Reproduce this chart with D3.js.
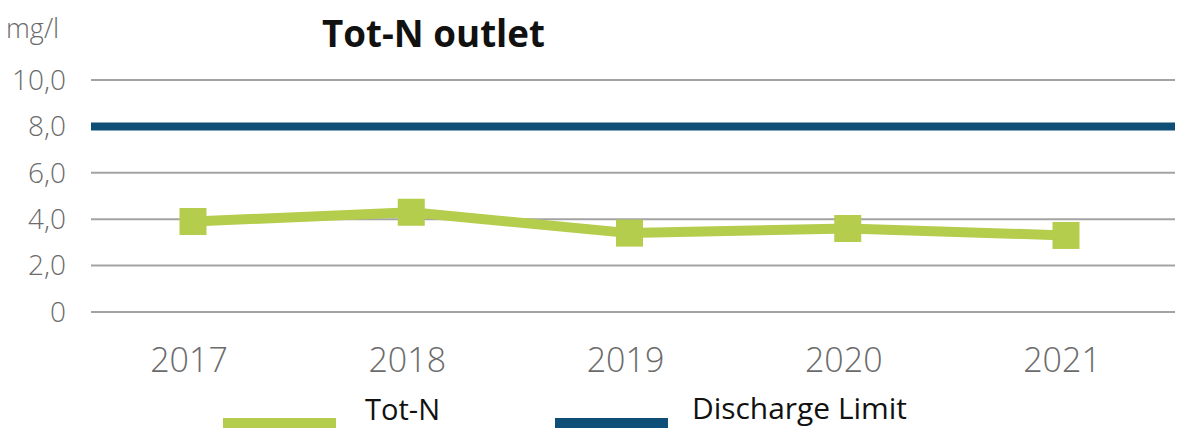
<!DOCTYPE html>
<html>
<head>
<meta charset="utf-8">
<script src="https://cdn.jsdelivr.net/npm/d3@7"></script>
<style>
  body { margin: 0; background: #fff; }
  .tick-label { font-family: "Open Sans", "Noto Sans", sans-serif; font-weight: 300; fill: #6b6b6b; }
  .legend-text, .title { font-family: "Open Sans", "Liberation Sans", sans-serif; fill: #111; }
</style>
</head>
<body>
<div id="chart_box"></div>
<script>
// data
var years = ["2017", "2018", "2019", "2020", "2021"];
var totN = [3.9, 4.3, 3.4, 3.6, 3.3];
var dischargeLimit = 8.0;
var yTicks = [0, 2, 4, 6, 8, 10];
var yTickLabels = ["0", "2,0", "4,0", "6,0", "8,0", "10,0"];

var width = 1180, height = 429;
var green = "#b4cd4c", blue = "#0f4f77", grid = "#a3a3a3";

var svg = d3.select("#chart_box").append("svg")
    .attr("width", width)
    .attr("height", height);

var x = d3.scalePoint().domain(years).range([193, 1066]);
var y = d3.scaleLinear().domain([0, 10]).range([312, 80]);

var plotLeft = 91, plotRight = 1175;

// gridlines
svg.selectAll(".grid")
    .data(yTicks)
    .enter().append("line")
    .attr("x1", plotLeft).attr("x2", plotRight)
    .attr("y1", function (d) { return y(d); })
    .attr("y2", function (d) { return y(d); })
    .style("stroke", grid)
    .style("stroke-width", 2);

// y tick labels
svg.selectAll(".ylab")
    .data(yTicks)
    .enter().append("text")
    .attr("class", "tick-label")
    .attr("x", 66)
    .attr("y", function (d) { return y(d); })
    .attr("dy", "0.35em")
    .style("text-anchor", "end")
    .style("font-size", "28px")
    .text(function (d, i) { return yTickLabels[i]; });

// unit
svg.append("text")
    .attr("class", "tick-label")
    .attr("x", 6).attr("y", 38)
    .style("font-size", "27px")
    .text("mg/l");

// title
svg.append("text")
    .attr("class", "title")
    .attr("x", 322).attr("y", 47)
    .attr("textLength", 223)
    .attr("lengthAdjust", "spacingAndGlyphs")
    .style("font-size", "38px")
    .style("font-weight", "bold")
    .text("Tot-N outlet");

// x labels
svg.selectAll(".xlab")
    .data(years)
    .enter().append("text")
    .attr("class", "tick-label")
    .attr("x", function (d) { return x(d) - 4; })
    .attr("y", 372)
    .style("text-anchor", "middle")
    .style("font-size", "34px")
    .text(function (d) { return d; });

// discharge limit
svg.append("line")
    .attr("x1", plotLeft).attr("x2", plotRight)
    .attr("y1", y(dischargeLimit)).attr("y2", y(dischargeLimit))
    .style("stroke", blue)
    .style("stroke-width", 8);

// Tot-N line
var line = d3.line()
    .x(function (d, i) { return x(years[i]); })
    .y(function (d) { return y(d); });

svg.append("path")
    .datum(totN)
    .attr("d", line)
    .style("fill", "none")
    .style("stroke", green)
    .style("stroke-width", 10)
    .style("stroke-linejoin", "round");

var ms = 27;
svg.selectAll(".marker")
    .data(totN)
    .enter().append("rect")
    .attr("x", function (d, i) { return x(years[i]) - ms / 2; })
    .attr("y", function (d) { return y(d) - ms / 2; })
    .attr("width", ms).attr("height", ms)
    .style("fill", green);

// legend
var legend = [
    { name: "Tot-N", color: green, x: 223, tx: 365, ty: 420, tl: 75 },
    { name: "Discharge Limit", color: blue, x: 555, tx: 692, ty: 419, tl: 215 }
];
svg.selectAll(".lg-line")
    .data(legend)
    .enter().append("rect")
    .attr("x", function (d) { return d.x; })
    .attr("y", 418)
    .attr("width", 113).attr("height", 10)
    .style("fill", function (d) { return d.color; });

svg.selectAll(".lg-text")
    .data(legend)
    .enter().append("text")
    .attr("class", "legend-text")
    .attr("x", function (d) { return d.tx; })
    .attr("y", function (d) { return d.ty; })
    .attr("textLength", function (d) { return d.tl; })
    .attr("lengthAdjust", "spacingAndGlyphs")
    .style("font-size", "29px")
    .text(function (d) { return d.name; });
</script>
</body>
</html>
